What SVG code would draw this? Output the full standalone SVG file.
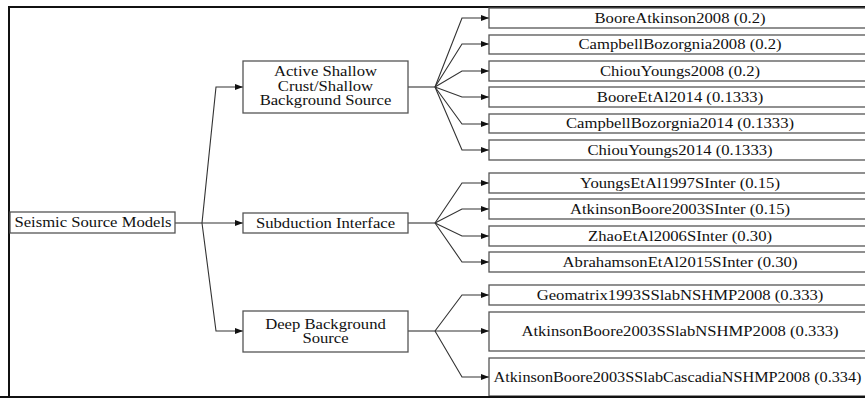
<svg xmlns="http://www.w3.org/2000/svg" width="865" height="399" viewBox="0 0 865 399">
<style>
.frame{fill:none;stroke:#111;stroke-width:2}
.box{fill:#fff;stroke:#555;stroke-width:1.3}
.t{font-family:"Liberation Serif","Times New Roman",serif;font-size:14px;fill:#111;text-anchor:middle}
.c{fill:none;stroke:#333;stroke-width:1.1;stroke-linejoin:miter}
.a{marker-end:url(#ah)}
</style>
<defs>
<marker id="ah" markerUnits="userSpaceOnUse" markerWidth="9" markerHeight="7" refX="8" refY="3" orient="auto">
<path d="M0,0 L8,3 L0,6 z" fill="#111"/>
</marker>
</defs>
<rect x="0" y="0" width="865" height="399" fill="#fff"/>
<rect class="frame" x="9" y="7" width="870" height="390"/>

<g id="connectors">
<path class="c" d="M175,223 H202"/>
<path class="c a" d="M202,223 L216,87 H243"/>
<path class="c a" d="M202,223 H243"/>
<path class="c a" d="M202,223 L216,331 H243"/>

<path class="c" d="M408,87 H435"/>
<path class="c a" d="M435,87 L462,18 H489"/>
<path class="c a" d="M435,87 L462,44 H489"/>
<path class="c a" d="M435,87 L462,71 H489"/>
<path class="c a" d="M435,87 L462,97 H489"/>
<path class="c a" d="M435,87 L462,124 H489"/>
<path class="c a" d="M435,87 L462,150 H489"/>

<path class="c" d="M408,223 H435"/>
<path class="c a" d="M435,223 L462,183 H489"/>
<path class="c a" d="M435,223 L462,209 H489"/>
<path class="c a" d="M435,223 L462,236 H489"/>
<path class="c a" d="M435,223 L462,262 H489"/>

<path class="c" d="M408,331 H435"/>
<path class="c a" d="M435,331 L462,295 H489"/>
<path class="c a" d="M435,331 H489"/>
<path class="c a" d="M435,331 L462,377 H489"/>
</g>

<g id="root">
<rect class="box" x="10" y="212" width="165" height="21"/>
<text class="t" transform="translate(93,227) scale(1.19,1)">Seismic Source Models</text>
</g>

<g id="active">
<rect class="box" x="243" y="61" width="165" height="52"/>
<text class="t" transform="translate(325.5,76) scale(1.19,1)">Active Shallow</text>
<text class="t" transform="translate(325.5,90.5) scale(1.19,1)">Crust/Shallow</text>
<text class="t" transform="translate(325.5,105) scale(1.19,1)">Background Source</text>
</g>

<g id="subduction">
<rect class="box" x="243" y="213" width="165" height="20"/>
<text class="t" transform="translate(325.5,227.5) scale(1.19,1)">Subduction Interface</text>
</g>

<g id="deep">
<rect class="box" x="243" y="311" width="165" height="41"/>
<text class="t" transform="translate(325.5,328.5) scale(1.19,1)">Deep Background</text>
<text class="t" transform="translate(325.5,343) scale(1.19,1)">Source</text>
</g>

<g id="g1"><rect class="box" x="489" y="8" width="380" height="20"/><text class="t" transform="translate(680,22.5) scale(1.19,1)">BooreAtkinson2008 (0.2)</text></g>
<g id="g2"><rect class="box" x="489" y="35" width="380" height="19"/><text class="t" transform="translate(680,49) scale(1.19,1)">CampbellBozorgnia2008 (0.2)</text></g>
<g id="g3"><rect class="box" x="489" y="61" width="380" height="20"/><text class="t" transform="translate(680,75.5) scale(1.19,1)">ChiouYoungs2008 (0.2)</text></g>
<g id="g4"><rect class="box" x="489" y="87" width="380" height="20"/><text class="t" transform="translate(680,101.5) scale(1.19,1)">BooreEtAl2014 (0.1333)</text></g>
<g id="g5"><rect class="box" x="489" y="114" width="380" height="19"/><text class="t" transform="translate(680,128) scale(1.19,1)">CampbellBozorgnia2014 (0.1333)</text></g>
<g id="g6"><rect class="box" x="489" y="140" width="380" height="20"/><text class="t" transform="translate(680,154.5) scale(1.19,1)">ChiouYoungs2014 (0.1333)</text></g>

<g id="g7"><rect class="box" x="489" y="173" width="380" height="20"/><text class="t" transform="translate(680,187.5) scale(1.19,1)">YoungsEtAl1997SInter (0.15)</text></g>
<g id="g8"><rect class="box" x="489" y="199" width="380" height="20"/><text class="t" transform="translate(680,213.5) scale(1.19,1)">AtkinsonBoore2003SInter (0.15)</text></g>
<g id="g9"><rect class="box" x="489" y="226" width="380" height="20"/><text class="t" transform="translate(680,240.5) scale(1.19,1)">ZhaoEtAl2006SInter (0.30)</text></g>
<g id="g10"><rect class="box" x="489" y="252" width="380" height="20"/><text class="t" transform="translate(680,266.5) scale(1.19,1)">AbrahamsonEtAl2015SInter (0.30)</text></g>

<g id="g11"><rect class="box" x="489" y="285" width="380" height="20"/><text class="t" transform="translate(680,299.5) scale(1.19,1)">Geomatrix1993SSlabNSHMP2008 (0.333)</text></g>
<g id="g12"><rect class="box" x="489" y="312" width="380" height="39"/><text class="t" transform="translate(680,335.5) scale(1.19,1)">AtkinsonBoore2003SSlabNSHMP2008 (0.333)</text></g>
<g id="g13"><rect class="box" x="489" y="358" width="380" height="38"/><text class="t" transform="translate(677.5,381.5) scale(1.16,1)">AtkinsonBoore2003SSlabCascadiaNSHMP2008 (0.334)</text></g>

<line x1="0" y1="397" x2="865" y2="397" stroke="#111" stroke-width="2"/>
</svg>
